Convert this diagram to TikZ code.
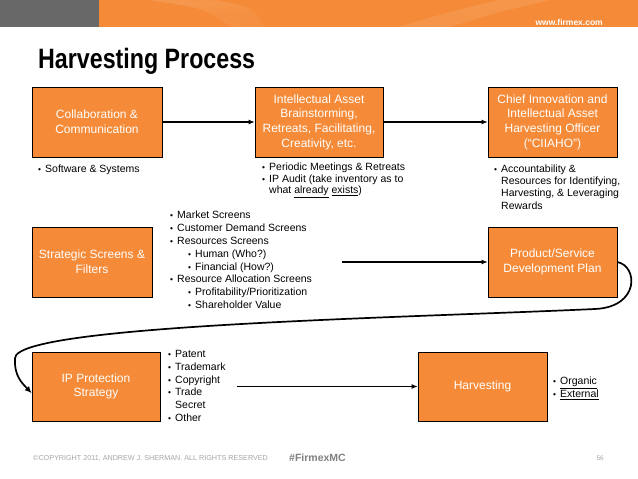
\documentclass[tikz,border=0pt]{standalone}
\usepackage{fontspec}
\setmainfont{Liberation Sans}
\newfontfamily\titlefont[FakeStretch=0.83]{Liberation Sans}
\usetikzlibrary{arrows.meta}
\definecolor{firmexorange}{RGB}{245,139,56}
\definecolor{bannergray}{RGB}{104,104,104}
\definecolor{footgray}{RGB}{165,165,165}
\newcommand{\bul}{\makebox[7pt][l]{\scalebox{0.8}{\textbullet}}}
\newcommand{\cont}{\hspace*{7pt}}

\begin{document}
\begin{tikzpicture}[x=1pt, y=-1pt,
  stepbox/.style={draw=black, line width=0.6pt, fill=firmexorange, text=white, align=center,
    font=\fontsize{12}{14.7}\selectfont, minimum width=129pt, minimum height=70pt, inner sep=1pt},
  bullets/.style={anchor=north west, align=left, inner sep=0pt, font=\fontsize{10.5}{12.3}\selectfont},
  flow/.style={line width=1.3pt, -{Latex[length=6pt, width=5pt]}},
  swoosh/.style={line width=1.7pt, -{Latex[length=7pt, width=6pt]}}
]
\useasboundingbox (0,0) rectangle (638,479);

% banner
\fill[bannergray] (0,0) rectangle (99,27);
\fill[firmexorange] (99,0) rectangle (638,27);
\foreach \k in {0,...,16} {
  \draw[white, opacity=0.18, line width=0.3pt] (150+4*\k,0) .. controls (205+3*\k,8) .. (232+2*\k,27);
  \draw[white, opacity=0.18, line width=0.3pt] (400+3*\k,27) .. controls (450+3*\k,12) .. (500+3*\k,0);
}
\node[anchor=base east, inner sep=0, text=white, font=\fontsize{8.5}{10}\selectfont\bfseries] (web) at (603,26) {www.firmex.com};

% title
\node[anchor=base west, inner sep=0, font={\titlefont\fontsize{28}{30}\selectfont\bfseries}] (title) at (38,68) {Harvesting Process};

% process steps
\node[stepbox, minimum width=130pt] (collab) at (97,122) {Collaboration \&\\Communication};
\node[stepbox, minimum width=128pt] (brain) at (319,122) {Intellectual Asset\\Brainstorming,\\Retreats, Facilitating,\\Creativity, etc.};
\node[stepbox] (chief) at (552.5,122) {Chief Innovation and\\Intellectual Asset\\Harvesting Officer\\(“CIIAHO”)};
\node[stepbox, minimum width=120pt] (screens) at (92,262) {Strategic Screens \&\\Filters};
\node[stepbox] (product) at (552.5,262) {Product/Service\\Development Plan};
\node[stepbox, minimum width=128pt, minimum height=69pt] (protect) at (96,386.5) {IP Protection\\Strategy};
\node[stepbox, minimum height=69pt] (harvest) at (482.5,386.5) {Harvesting};

% bullet lists
\node[bullets] (collablist) at (38,164.5) {\bul Software \& Systems};
\node[bullets, font=\fontsize{10.5}{11.8}\selectfont] (brainlist) at (262,162.5) {\bul Periodic Meetings \& Retreats\\
  \bul IP Audit (take inventory as to\\
  \cont what \underline{already} \underline{exists})};
\node[bullets] (chieflist) at (494,164.5) {\bul Accountability \&\\
  \cont Resources for Identifying,\\
  \cont Harvesting, \& Leveraging\\
  \cont Rewards};
\node[bullets, font=\fontsize{10.5}{12.8}\selectfont] (screenlist) at (170,211) {\bul Market Screens\\
  \bul Customer Demand Screens\\
  \bul Resources Screens\\
  \hspace*{18pt}\bul Human (Who?)\\
  \hspace*{18pt}\bul Financial (How?)\\
  \bul Resource Allocation Screens\\
  \hspace*{18pt}\bul Profitability/Prioritization\\
  \hspace*{18pt}\bul Shareholder Value};
\node[bullets, font=\fontsize{10.5}{12.8}\selectfont] (protectlist) at (168,350) {\bul Patent\\
  \bul Trademark\\
  \bul Copyright\\
  \bul Trade\\
  \cont Secret\\
  \bul Other};
\node[bullets, font=\fontsize{10.5}{11.5}\selectfont] (harvestlist) at (553,377) {\bul \underline{Organic}\\
  \bul \underline{External}};

% connectors
\coordinate (screenout) at (342,262);
\coordinate (protectout) at (237,386.5);
\draw[flow] (collab.east) -- (brain.west);
\draw[flow] (brain.east) -- (chief.west);
\draw[flow] (screenout) -- (product.west);
\draw[flow] (protectout) -- (harvest.west);
\draw[swoosh] (product.east) .. controls (638,266) and (640,307) .. (595,309)
  .. controls (400,318) and (17,325) .. (15,358)
  .. controls (14,376) and (22,383) .. (protect.186);

% footer
\node[anchor=base west, inner sep=0, text=footgray, font=\fontsize{7.2}{8}\selectfont] (copy) at (33,460) {©COPYRIGHT 2011, ANDREW J. SHERMAN. ALL RIGHTS RESERVED};
\node[anchor=base west, inner sep=0, text=gray, font=\fontsize{10.5}{12}\selectfont\bfseries] (tag) at (289,461) {\#FirmexMC};
\node[anchor=base east, inner sep=0, text=footgray, font=\fontsize{6.5}{8}\selectfont] (page) at (604,460) {56};
\end{tikzpicture}
\end{document}
